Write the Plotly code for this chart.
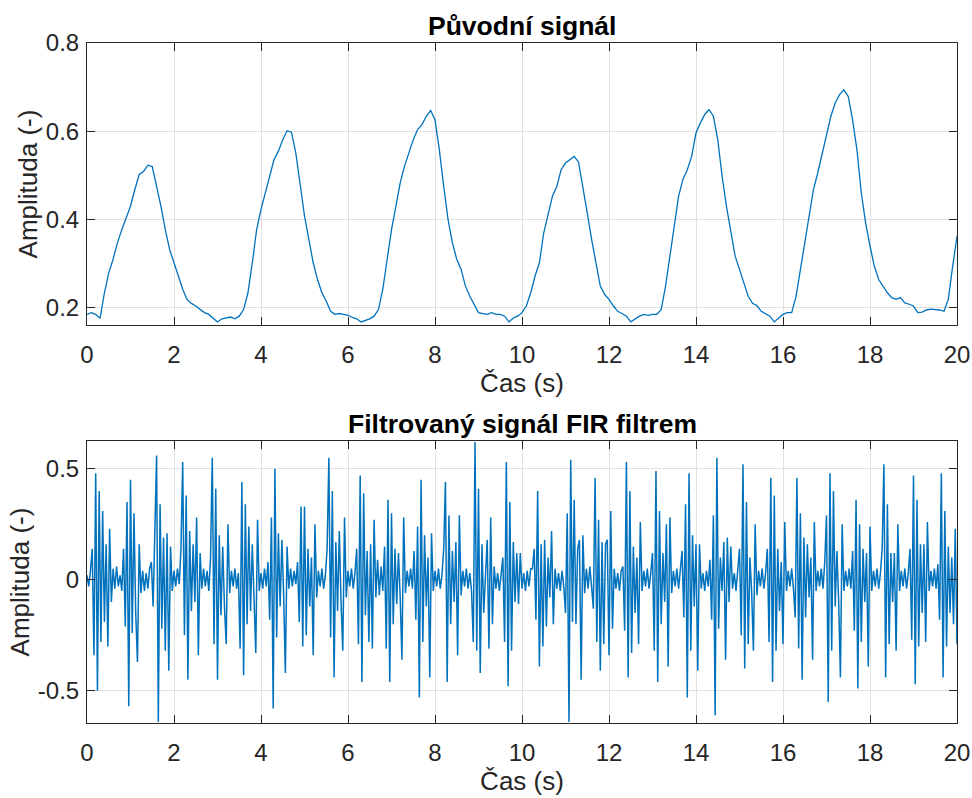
import plotly.graph_objects as go

# ---------------- data ----------------
ORIG_DT = 0.1   # s, sampling step of the values read for the original signal
FILT_DT = 0.04  # s, sampling step of the values read for the filtered signal

orig_signal = [
    0.185, 0.189, 0.185, 0.176, 0.234, 0.279, 0.310, 0.347, 0.377, 0.404,
    0.430, 0.468, 0.502, 0.509, 0.523, 0.520, 0.475, 0.430, 0.377, 0.332,
    0.302, 0.272, 0.242, 0.219, 0.210, 0.204, 0.196, 0.189, 0.185, 0.177,
    0.168, 0.175, 0.177, 0.179, 0.175, 0.181, 0.196, 0.234, 0.302, 0.377,
    0.423, 0.460, 0.502, 0.536, 0.555, 0.581, 0.601, 0.598, 0.551, 0.475,
    0.408, 0.355, 0.302, 0.264, 0.234, 0.215, 0.192, 0.185, 0.187, 0.185,
    0.183, 0.178, 0.175, 0.168, 0.172, 0.175, 0.181, 0.196, 0.242, 0.309,
    0.377, 0.430, 0.483, 0.521, 0.551, 0.581, 0.604, 0.615, 0.634, 0.647,
    0.626, 0.558, 0.475, 0.400, 0.347, 0.310, 0.287, 0.249, 0.226, 0.208,
    0.189, 0.187, 0.185, 0.189, 0.185, 0.185, 0.181, 0.168, 0.177, 0.181,
    0.189, 0.204, 0.234, 0.272, 0.302, 0.370, 0.415, 0.453, 0.475, 0.513,
    0.528, 0.536, 0.543, 0.530, 0.468, 0.415, 0.355, 0.302, 0.249, 0.230,
    0.219, 0.204, 0.192, 0.187, 0.181, 0.168, 0.175, 0.181, 0.185, 0.183,
    0.185, 0.185, 0.196, 0.249, 0.317, 0.385, 0.453, 0.491, 0.513, 0.543,
    0.596, 0.619, 0.638, 0.649, 0.634, 0.581, 0.498, 0.430, 0.370, 0.317,
    0.287, 0.257, 0.226, 0.210, 0.205, 0.192, 0.187, 0.181, 0.168, 0.177,
    0.185, 0.189, 0.189, 0.226, 0.287, 0.347, 0.415, 0.468, 0.506, 0.551,
    0.596, 0.634, 0.664, 0.683, 0.694, 0.679, 0.626, 0.558, 0.460, 0.392,
    0.340, 0.294, 0.264, 0.248, 0.234, 0.223, 0.219, 0.223, 0.211, 0.208,
    0.204, 0.189, 0.190, 0.195, 0.197, 0.196, 0.195, 0.192, 0.219, 0.294,
    0.362,
]

filt_part1 = [
    0.02, -0.03, 0.04, 0.14, -0.34, 0.48, -0.50, 0.40, -0.28, 0.31, -0.19, 0.16, -0.30, 0.23, -0.10,
    0.05, -0.04, 0.06, -0.03, 0.02, -0.05,
    0.14, -0.21, 0.35, -0.57, 0.45, -0.24, 0.30, -0.15, -0.37, 0.16, -0.06, 0.04, -0.05, 0.03, -0.04, 0.05,
    0.08, -0.12, 0.27, 0.56, -0.64, 0.34, -0.22, 0.19, -0.32, 0.21, -0.41, 0.15, -0.05, 0.04, -0.03, 0.05, -0.02,
    0.14, 0.53, -0.25, 0.38, -0.45, 0.22, -0.14, 0.16, -0.10, 0.28, -0.34, 0.12, -0.04, 0.05, -0.03, 0.04, -0.05,
    0.10, 0.55, -0.29, 0.41, -0.45, 0.20, -0.16, 0.15, -0.12, -0.29, 0.25, -0.06, 0.04, -0.03, 0.05, -0.04, 0.03,
    -0.31, 0.44, -0.43, 0.34, -0.20, 0.24, -0.14, 0.16, -0.08, -0.33, 0.27, -0.05, 0.03, -0.04, 0.05, -0.03,
    0.08, -0.18, 0.28, -0.58, 0.50, -0.26, 0.21, -0.12, 0.18, -0.06, -0.42, 0.15, -0.04, 0.05, -0.03, 0.04, -0.02,
]
filt_part2 = [
    0.08, -0.19, 0.33, -0.30, 0.33, -0.25, 0.14, -0.12, 0.10, -0.34, 0.25, -0.08, 0.04, -0.03, 0.05, -0.04, 0.02,
    0.14, 0.55, -0.26, 0.40, -0.44, 0.17, -0.14, 0.22, -0.10, -0.32, 0.28, -0.08, 0.04, -0.03, 0.05, -0.04, 0.03,
    0.14, -0.29, 0.47, -0.46, 0.39, -0.16, 0.13, -0.28, 0.16, -0.31, 0.27, -0.08, 0.09, -0.07, 0.06, -0.05,
    0.15, -0.31, 0.36, -0.46, 0.30, -0.20, 0.14, -0.11, 0.12, -0.08, -0.36, 0.28, -0.06, 0.04, -0.03, 0.05, -0.04,
    0.13, -0.18, 0.24, -0.53, 0.45, -0.28, 0.20, -0.12, 0.10, -0.44, 0.21, -0.05, 0.04, -0.03, 0.05, -0.04, 0.02,
    0.14, 0.44, -0.46, 0.29, -0.20, 0.13, -0.10, 0.17, -0.34, 0.29, -0.07, 0.04, -0.03, 0.05, -0.04, 0.03, -0.05,
    -0.28, 0.62, -0.32, 0.41, -0.42, 0.16, -0.15, 0.06, 0.18, -0.31, 0.28, -0.20, 0.06, -0.04, 0.03, -0.05, 0.04, 0.10,
    -0.28, 0.53, -0.48, 0.35, -0.32, 0.17, -0.10, 0.12, -0.11, 0.12, -0.04, 0.03, -0.05, 0.04, -0.03, 0.05,
]
filt_part3 = [
    0.05, 0.14, -0.18, 0.40, -0.39, 0.16, -0.30, 0.18, -0.21, 0.10, -0.08, 0.22, -0.20, 0.05, -0.04, 0.03, -0.05, 0.04, -0.03,
    -0.15, 0.30, -0.64, 0.54, -0.19, 0.36, -0.20, 0.14, 0.18, -0.45, 0.20, -0.06, 0.05, -0.04, 0.06, -0.03,
    -0.13, 0.46, -0.28, 0.27, -0.41, 0.17, -0.29, 0.16, 0.18, -0.34, 0.31, -0.22, 0.05, -0.04, 0.03, -0.05, 0.04,
    0.06, -0.23, 0.53, -0.44, 0.40, -0.33, 0.15, -0.15, 0.10, -0.29, 0.26, -0.05, 0.04, -0.03, 0.05, -0.04, 0.03,
    0.12, -0.32, 0.49, -0.46, 0.31, -0.20, 0.12, -0.10, 0.25, -0.39, 0.28, -0.06, 0.04, -0.03, 0.05, -0.04, 0.03,
    0.13, -0.17, 0.34, -0.53, 0.48, -0.32, 0.20, -0.12, 0.16, -0.41, 0.16, -0.04, 0.03, -0.05, 0.04, -0.03,
    0.09, -0.18, 0.29, -0.61, 0.55, -0.22, 0.10, -0.05, 0.17, -0.36, 0.19, -0.10, 0.15, -0.04, 0.03, -0.05, 0.04,
    0.14, -0.25, 0.52, -0.40, 0.35, -0.29, 0.10, -0.06, -0.32, 0.25, -0.07, 0.04, -0.03, 0.05, -0.04, 0.03,
]
filt_part4 = [
    0.14, -0.28, 0.46, -0.46, 0.38, -0.32, 0.14, -0.14, 0.08, -0.29, 0.26, -0.05, 0.04, -0.03, 0.05, -0.04,
    -0.17, 0.46, -0.31, 0.30, -0.45, 0.19, -0.17, 0.16, -0.08, 0.10, -0.36, 0.26, -0.05, 0.04, -0.03, 0.05, -0.04,
    0.08, 0.29, -0.55, 0.48, -0.32, 0.40, -0.12, 0.13, -0.10, -0.44, 0.25, -0.05, 0.04, -0.03, 0.05, -0.04,
    0.13, -0.23, 0.36, -0.49, 0.25, -0.28, 0.14, -0.10, 0.12, -0.39, 0.24, -0.05, 0.04, -0.03, 0.05, -0.04, 0.03,
    0.14, 0.52, -0.44, 0.34, -0.29, 0.12, -0.10, 0.12, -0.32, 0.25, -0.05, 0.04, -0.03, 0.05, -0.04, 0.03,
    0.14, -0.27, 0.47, -0.47, 0.36, -0.30, 0.16, -0.15, 0.16, -0.28, 0.26, -0.05, 0.04, -0.03, 0.05, -0.04, 0.07,
    -0.18, 0.48, -0.44, 0.31, -0.30, 0.15, -0.15, 0.10, -0.20, 0.23, -0.29,
]

x_tick_values = [0, 2, 4, 6, 8, 10, 12, 14, 16, 18, 20]
top_y_tick_values = [0.2, 0.4, 0.6, 0.8]
top_y_tick_labels = ["0.2", "0.4", "0.6", "0.8"]
bot_y_tick_values = [-0.5, 0, 0.5]
bot_y_tick_labels = ["-0.5", "0", "0.5"]

title_top = "Původní signál"
title_bottom = "Filtrovaný signál FIR filtrem"
x_label = "Čas (s)"
y_label = "Amplituda (-)"

# ---------------- build ----------------
filt_signal = filt_part1 + filt_part2 + filt_part3 + filt_part4
assert len(filt_signal) == 501, len(filt_signal)
t_orig = [round(i * ORIG_DT, 4) for i in range(len(orig_signal))]
t_filt = [round(i * FILT_DT, 4) for i in range(len(filt_signal))]

LINE_COLOR = "#0072BD"
AX_COLOR = "#262626"
FONT = "Liberation Sans, Arial, Helvetica, sans-serif"

fig = go.Figure()
fig.add_trace(go.Scatter(x=t_orig, y=orig_signal, mode="lines",
                         line=dict(color=LINE_COLOR, width=1.3),
                         xaxis="x", yaxis="y", hoverinfo="x+y"))
fig.add_trace(go.Scatter(x=t_filt, y=filt_signal, mode="lines",
                         line=dict(color=LINE_COLOR, width=1.5),
                         xaxis="x2", yaxis="y2", hoverinfo="x+y"))

common = dict(showline=True, linecolor=AX_COLOR, linewidth=1, mirror="ticks",
              ticks="inside", ticklen=8, tickwidth=1, tickcolor=AX_COLOR,
              showgrid=True, gridcolor="#e0e0e0", gridwidth=1, zeroline=False,
              automargin=False,
              tickfont=dict(family=FONT, size=24, color=AX_COLOR))

TOP_DOM = [0.5853, 1.0]
BOT_DOM = [0.0, 0.4147]
label_font = dict(family=FONT, size=26, color=AX_COLOR)
title_font = dict(family=FONT, size=26.5, color="#000000")

fig.update_layout(
    width=972, height=798,
    margin=dict(l=87, r=15, t=43, b=75),
    paper_bgcolor="white", plot_bgcolor="white",
    showlegend=False,
    font=dict(family=FONT, color=AX_COLOR),
    xaxis=dict(common, domain=[0, 1], anchor="y", range=[0, 20],
               tickvals=x_tick_values, ticklabelstandoff=8,
               title=dict(text=x_label, font=label_font, standoff=4)),
    yaxis=dict(common, domain=TOP_DOM, anchor="x", range=[0.161, 0.8],
               tickvals=top_y_tick_values, ticktext=top_y_tick_labels, ticklabelstandoff=2,
               title=dict(text=y_label, font=label_font, standoff=0)),
    xaxis2=dict(common, domain=[0, 1], anchor="y2", range=[0, 20],
                tickvals=x_tick_values, ticklabelstandoff=8,
                title=dict(text=x_label, font=label_font, standoff=4)),
    yaxis2=dict(common, domain=BOT_DOM, anchor="x2", range=[-0.645, 0.625],
                tickvals=bot_y_tick_values, ticktext=bot_y_tick_labels, ticklabelstandoff=2,
                title=dict(text=y_label, font=label_font, standoff=0)),
    annotations=[
        dict(text="<b>" + title_top + "</b>", x=0.5, y=TOP_DOM[1], xref="paper", yref="paper",
             xanchor="center", yanchor="bottom", showarrow=False, yshift=0,
             font=title_font),
        dict(text="<b>" + title_bottom + "</b>", x=0.5, y=BOT_DOM[1], xref="paper", yref="paper",
             xanchor="center", yanchor="bottom", showarrow=False, yshift=0,
             font=title_font),
    ],
)

fig.write_html("out.html", config={"displayModeBar": False})

# remove the browser's default page margin so the 972x798 figure fills the window exactly
with open("out.html", "r", encoding="utf-8") as f:
    page = f.read()
page = page.replace("<head>", "<head><style>html,body{margin:0;padding:0;overflow:hidden;}</style>", 1)
with open("out.html", "w", encoding="utf-8") as f:
    f.write(page)
